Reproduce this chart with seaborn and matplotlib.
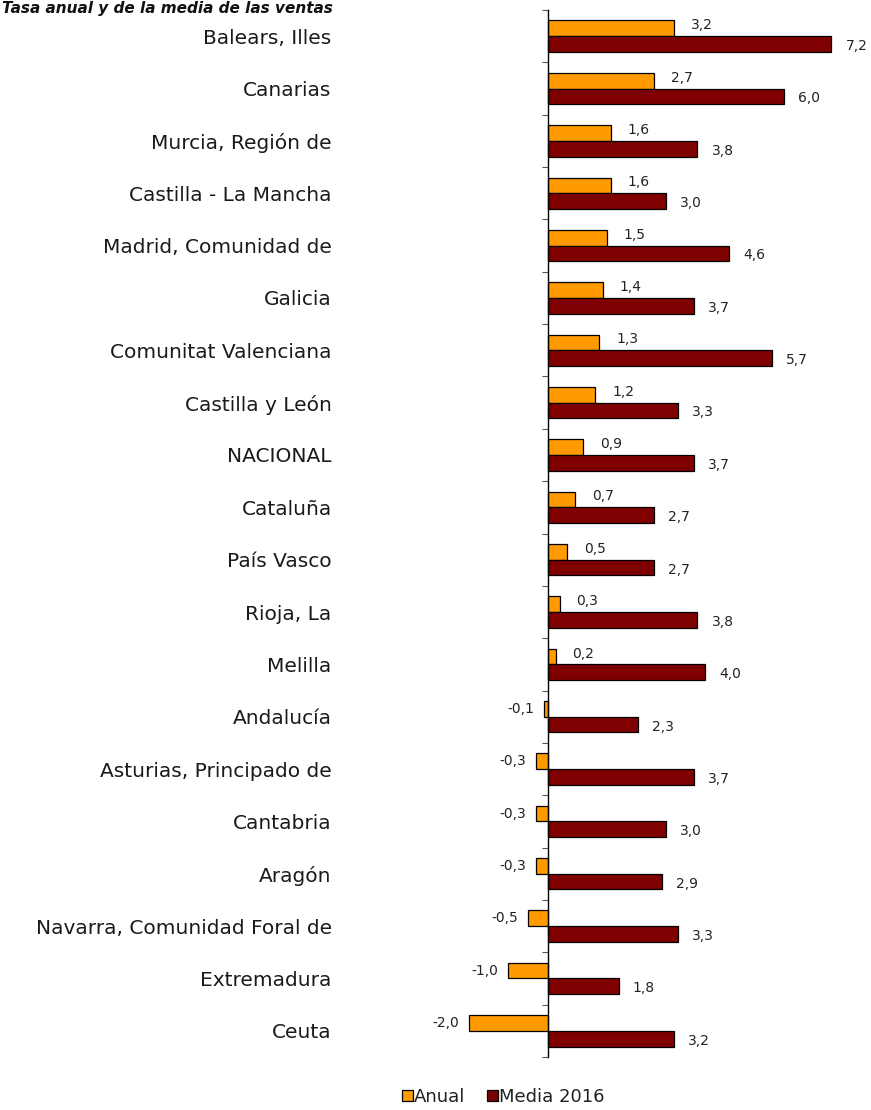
import matplotlib
matplotlib.use("Agg")
import matplotlib.pyplot as plt
import matplotlib.transforms as mtrans
from matplotlib.ticker import FixedLocator
import seaborn as sns
import pandas as pd

categories = ["Balears, Illes", "Canarias", "Murcia, Región de", "Castilla - La Mancha",
              "Madrid, Comunidad de", "Galicia", "Comunitat Valenciana", "Castilla y León",
              "NACIONAL", "Cataluña", "País Vasco", "Rioja, La", "Melilla", "Andalucía",
              "Asturias, Principado de", "Cantabria", "Aragón",
              "Navarra, Comunidad Foral de", "Extremadura", "Ceuta"]
anual = [3.2, 2.7, 1.6, 1.6, 1.5, 1.4, 1.3, 1.2, 0.9, 0.7, 0.5, 0.3, 0.2, -0.1,
         -0.3, -0.3, -0.3, -0.5, -1.0, -2.0]
media_2016 = [7.2, 6.0, 3.8, 3.0, 4.6, 3.7, 5.7, 3.3, 3.7, 2.7, 2.7, 3.8, 4.0, 2.3,
              3.7, 3.0, 2.9, 3.3, 1.8, 3.2]
series_names = ["Anual", "Media 2016"]
colors = ["#FF9A00", "#7F0000"]
title = "Tasa anual y de la media de las ventas"

df = pd.DataFrame({
    "region": categories * 2,
    "valor": anual + media_2016,
    "serie": [series_names[0]] * len(categories) + [series_names[1]] * len(categories),
})

sns.set_theme(style="white")
plt.rcParams["font.family"] = ["DejaVu Sans"]

fig = plt.figure(figsize=(8.71, 11.10), dpi=100)
ax = fig.add_axes([461 / 871, 53 / 1110, 402 / 871, 1047 / 1110])

sns.barplot(data=df, y="region", x="valor", hue="serie", orient="h",
            palette=colors, saturation=1, width=0.6, edgecolor="black", linewidth=0.9,
            ax=ax, legend=True)

ax.set_xlim(-2.2, 8.0)
ax.set_ylim(len(categories) - 0.5, -0.5)
ax.set_xlabel("")
ax.set_ylabel("")
ax.set_xticks([])
for s in ["top", "right", "bottom"]:
    ax.spines[s].set_visible(False)
ax.spines["left"].set_position(("data", 0))
ax.spines["left"].set_color("black")
ax.spines["left"].set_linewidth(1.0)

ax.yaxis.set_minor_locator(FixedLocator([i - 0.5 for i in range(len(categories) + 1)]))
ax.tick_params(axis="y", which="major", length=0, pad=155.5, labelsize=14.5)
ax.tick_params(axis="y", which="minor", left=True, length=4, width=0.8, color="#555555")
for lab in ax.get_yticklabels():
    lab.set_color("#1a1a1a")

# value labels
pts = lambda dx, dy: mtrans.offset_copy(ax.transData, fig=fig, x=dx, y=dy, units="dots")
fmt = lambda v: f"{v:.1f}".replace(".", ",")
for bar, v in zip(ax.containers[0], anual):
    yc = bar.get_y() + bar.get_height() / 2
    if v >= 0:
        ax.text(v, yc, fmt(v), transform=pts(17, 3), ha="left", va="center",
                fontsize=10, color="#222222")
    else:
        ax.text(v, yc, fmt(v), transform=pts(-10, 0), ha="right", va="center",
                fontsize=10, color="#222222")
for bar, v in zip(ax.containers[1], media_2016):
    yc = bar.get_y() + bar.get_height() / 2
    ax.text(v, yc, fmt(v), transform=pts(14, -2), ha="left", va="center",
            fontsize=10, color="#222222")

leg = ax.get_legend()
handles = leg.legend_handles
leg.remove()
fig.legend(handles, series_names, loc="center", bbox_to_anchor=(503 / 871, 13 / 1110),
           ncol=2, frameon=False, fontsize=13, handlelength=0.6, handleheight=0.6,
           handletextpad=0.05, columnspacing=1.2, labelcolor="#222222")

fig.text(2 / 871, 1 - 1 / 1110, title, ha="left", va="top", fontsize=11,
         fontweight="bold", fontstyle="italic", color="#111111")

fig.savefig("out.png", dpi=100)
